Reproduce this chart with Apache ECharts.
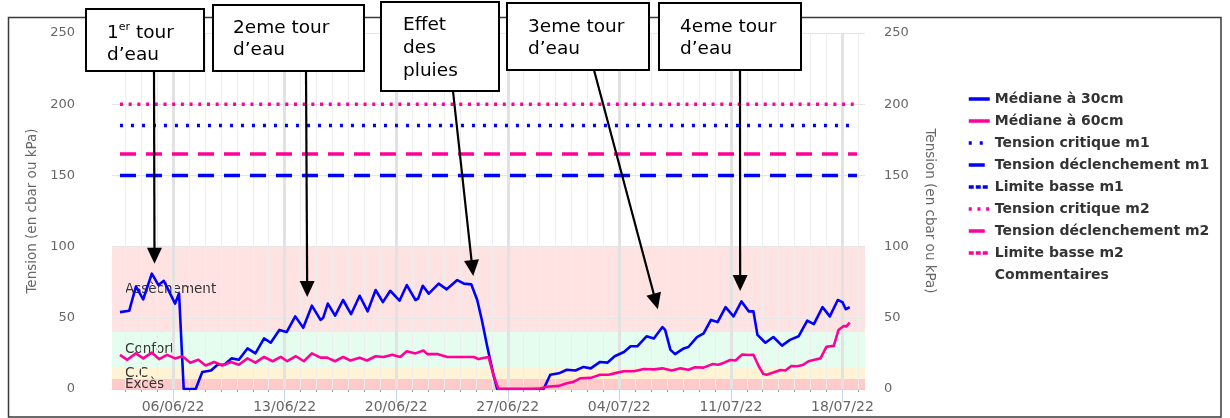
<!DOCTYPE html>
<html>
<head>
<meta charset="utf-8">
<script src="https://cdn.jsdelivr.net/npm/echarts@6/dist/echarts.min.js"></script>
<style>
  html, body { margin: 0; padding: 0; background: #fff; }
  #chart { width: 1230px; height: 418px; }
</style>
</head>
<body>
<div id="chart"></div>
<script>
// x axis runs on hourly categories, dates are 'MM-DD HH' in 2022
const axisStart = '06-02 04';
const axisEnd = '07-19 10';

const yTicks = [0, 50, 100, 150, 200, 250];

// médiane à 30cm
const median30 = [
  ['06-02 16', 54], ['06-03 06', 55], ['06-03 16', 72], ['06-04 03', 63], ['06-04 16', 81],
  ['06-05 02', 73], ['06-05 10', 76], ['06-06 03', 60], ['06-06 09', 67], ['06-06 16', 0],
  ['06-07 10', 0], ['06-07 20', 12], ['06-08 09', 13], ['06-08 19', 17], ['06-09 05', 17],
  ['06-09 16', 21.5], ['06-10 03', 20.5], ['06-10 16', 28.5], ['06-11 04', 25], ['06-11 17', 35.5],
  ['06-12 03', 32.5], ['06-12 16', 41.5], ['06-13 03', 40], ['06-13 16', 51], ['06-14 04', 43],
  ['06-14 17', 58.5], ['06-15 06', 48.5], ['06-15 10', 50], ['06-15 17', 60], ['06-16 04', 51.5],
  ['06-16 16', 62.5], ['06-17 04', 52.5], ['06-17 17', 65.5], ['06-18 05', 54.5], ['06-18 17', 69.5],
  ['06-19 04', 61], ['06-19 15', 69], ['06-20 05', 62], ['06-20 16', 73], ['06-21 05', 62.5],
  ['06-21 09', 63.5], ['06-21 16', 72.5], ['06-22 01', 67], ['06-22 16', 74], ['06-23 04', 70],
  ['06-23 20', 76.5], ['06-24 06', 74], ['06-24 17', 73.5], ['06-25 02', 62.5], ['06-25 09', 48.5],
  ['06-25 17', 30], ['06-26 02', 11], ['06-26 08', 0], ['06-29 06', 0], ['06-29 16', 10],
  ['06-30 05', 11], ['06-30 17', 13.5], ['07-01 06', 13], ['07-01 18', 15.5], ['07-02 05', 14.5],
  ['07-02 19', 19], ['07-03 06', 18.5], ['07-03 17', 23], ['07-04 07', 26], ['07-04 17', 30],
  ['07-05 03', 30], ['07-05 17', 37], ['07-06 04', 35.5], ['07-06 17', 43.5], ['07-06 21', 41.5],
  ['07-07 05', 27.5], ['07-07 12', 24.5], ['07-08 01', 28.5], ['07-08 08', 29.5], ['07-08 21', 36.5],
  ['07-09 07', 39], ['07-09 18', 48.5], ['07-10 04', 47], ['07-10 16', 57.5], ['07-11 04', 51],
  ['07-11 16', 61.5], ['07-12 03', 54.5], ['07-12 10', 54.5], ['07-12 16', 38], ['07-13 04', 32.5],
  ['07-13 16', 36.5], ['07-14 05', 30.5], ['07-14 17', 34.5], ['07-15 06', 37], ['07-15 19', 48],
  ['07-16 05', 45.5], ['07-16 18', 57.5], ['07-17 05', 51], ['07-17 17', 62.5], ['07-18 00', 61],
  ['07-18 05', 56], ['07-18 11', 57.5]
];

// médiane à 60cm
const median60 = [
  ['06-02 16', 24], ['06-03 03', 20.5], ['06-03 16', 25], ['06-04 03', 21.5], ['06-04 16', 25.5],
  ['06-05 03', 21], ['06-05 15', 24], ['06-06 03', 21.5], ['06-06 14', 23], ['06-07 02', 18.5],
  ['06-07 14', 20.5], ['06-08 01', 16.5], ['06-08 14', 19], ['06-09 02', 16.5], ['06-09 15', 19],
  ['06-10 03', 17], ['06-10 16', 21.5], ['06-11 04', 18.5], ['06-11 17', 22.5], ['06-12 06', 19.5],
  ['06-12 18', 22.5], ['06-13 04', 19.5], ['06-13 17', 23], ['06-14 05', 19.5], ['06-14 17', 25],
  ['06-15 06', 22], ['06-15 16', 22], ['06-16 04', 19.5], ['06-16 16', 22.5], ['06-17 03', 20],
  ['06-17 17', 22], ['06-18 04', 20], ['06-18 17', 23], ['06-19 05', 22.5], ['06-19 18', 24],
  ['06-20 06', 22.5], ['06-20 16', 26.5], ['06-21 05', 25], ['06-21 17', 27], ['06-21 23', 24.5],
  ['06-22 14', 24.5], ['06-23 05', 22.5], ['06-23 15', 22.5], ['06-24 06', 22.5], ['06-24 21', 22.5],
  ['06-25 04', 21], ['06-25 19', 22.5], ['06-26 03', 9], ['06-26 10', 0], ['06-28 13', 0],
  ['06-28 15', 0.5], ['06-29 01', 0.3], ['06-29 11', 1.6], ['06-30 05', 2.2], ['06-30 17', 4],
  ['07-01 03', 5], ['07-01 13', 7.5], ['07-02 05', 7.8], ['07-02 19', 10], ['07-03 08', 10],
  ['07-03 21', 11.5], ['07-04 07', 12.5], ['07-04 22', 12.5], ['07-05 13', 14], ['07-06 04', 13.8],
  ['07-06 17', 14.5], ['07-07 07', 13], ['07-07 20', 14.5], ['07-08 08', 13.5], ['07-08 18', 15.3],
  ['07-09 07', 15], ['07-09 20', 17.5], ['07-10 05', 17], ['07-10 14', 18.5], ['07-10 23', 20.4],
  ['07-11 07', 20], ['07-11 17', 24.2], ['07-12 03', 23.9], ['07-12 10', 24], ['07-12 18', 16],
  ['07-13 01', 10.5], ['07-13 06', 10], ['07-13 17', 11.7], ['07-14 03', 13.3], ['07-14 10', 13],
  ['07-14 19', 16.1], ['07-15 04', 16], ['07-15 12', 16.8], ['07-15 21', 19.5], ['07-16 06', 20.5],
  ['07-16 15', 21.5], ['07-17 00', 29.7], ['07-17 11', 30.3], ['07-17 18', 41.4], ['07-18 02', 44.2],
  ['07-18 06', 44], ['07-18 11', 46.6]
];

// seuils
const critiqueM1 = 185;
const declenchementM1 = 150;
const critiqueM2 = 200;
const declenchementM2 = 165;
const thresholdSpan = ['06-02 16', '07-18 22'];

// zones de confort
const zoneNames = ['Excès', 'C.C', 'Confort', 'Assèchement'];
const zoneBounds = [[0, 7], [7, 15], [15, 40], [40, 100]];

// annotations
const noteTexts = [
  '{n|1}{s|er}{n| tour}\n{n|d’eau}',
  '2eme tour\nd’eau',
  'Effet\ndes\npluies',
  '3eme tour\nd’eau',
  '4eme tour\nd’eau'
];
const noteTargets = [['06-04 20', 88], ['06-14 10', 64.6], ['06-24 20', 79.3], ['07-06 10', 56], ['07-11 14', 68.8]];

// layout of the annotation boxes (pixels)
const noteBoxes = [[86, 9, 118, 62], [213, 5, 151, 66], [381, 2, 118, 89], [507, 3, 142, 67], [659, 3, 142, 67]];
const noteTextPos = [[107, 22], [233, 17], [403, 13.5], [528, 16], [680, 16]];
const noteLineHeight = [22, 22, 23, 22, 22];
const noteArrowFrom = [[154, 71], [306, 71], [453, 91], [594, 70], [740, 71]];

const FONT = 'DejaVu Sans, Verdana, sans-serif';
const BLUE = '#0000ff';
const PINK = '#ff0099';
const zoneColors = ['#ffcaca', '#fff3d6', '#e4fdee', '#ffe2e2'];

const HOUR = 3600000;
function stamp(s) {
  const [md, h] = s.split(' ');
  const [m, d] = md.split('-').map(Number);
  return Date.UTC(2022, m - 1, d, Number(h));
}
const startMs = stamp(axisStart);
const endMs = stamp(axisEnd);
const hours = [];
for (let t = startMs; t <= endMs; t += HOUR) hours.push(new Date(t));
const categories = hours.map(d => d.toISOString().slice(0, 13));
const isDay = hours.map(d => d.getUTCHours() === 0);
const isWeek = hours.map(d => d.getUTCHours() === 0 && d.getUTCDay() === 1);
const idx = s => (stamp(s) - startMs) / HOUR;

const toSeries = arr => arr.map(p => [idx(p[0]), p[1]]);
const flat = v => thresholdSpan.map(s => [idx(s), v]);

function lineSeries(name, data, color, width, type) {
  return {
    name: name,
    type: 'line',
    symbol: 'none',
    z: 10,
    data: data,
    itemStyle: { color: color },
    lineStyle: { color: color, width: width, type: type || 'solid', cap: 'butt', join: 'round' },
    emphasis: { disabled: true },
    animation: false
  };
}

const series = [
  lineSeries('Médiane à 30cm', toSeries(median30), BLUE, 2.6),
  lineSeries('Médiane à 60cm', toSeries(median60), PINK, 2.6),
  lineSeries('Tension critique m1', flat(critiqueM1), BLUE, 3.5, [3, 8]),
  lineSeries('Tension déclenchement m1', flat(declenchementM1), BLUE, 3.5, [16, 10]),
  lineSeries('Limite basse m1', [], BLUE, 3, [5, 2]),
  lineSeries('Tension critique m2', flat(critiqueM2), PINK, 3.5, [3, 5.7]),
  lineSeries('Tension déclenchement m2', flat(declenchementM2), PINK, 3.5, [16, 10]),
  lineSeries('Limite basse m2', [], PINK, 3, [5, 2]),
  lineSeries('Commentaires', [], '#333', 0)
];

// coloured zones behind the curves
series[0].markArea = {
  silent: true,
  label: { position: 'insideLeft', distance: 13, color: '#333', fontSize: 13.5, fontFamily: FONT },
  data: zoneNames.map((n, i) => [
    { name: n, yAxis: zoneBounds[i][0], itemStyle: { color: zoneColors[i] } },
    { yAxis: zoneBounds[i][1] }
  ])
};

const dateLabel = v => v.slice(8, 10) + '/' + v.slice(5, 7) + '/' + v.slice(2, 4);

const yAxisBase = {
  type: 'value',
  min: yTicks[0],
  max: yTicks[yTicks.length - 1],
  interval: yTicks[1] - yTicks[0],
  z: 2,
  nameLocation: 'middle',
  nameTextStyle: { color: '#666', fontSize: 13.5, fontFamily: FONT },
  axisLine: { show: false },
  axisTick: { show: false }
};

const option = {
  animation: false,
  grid: { left: 112, right: 365, top: 33, bottom: 29 },
  legend: {
    orient: 'vertical',
    left: 967,
    top: 92,
    padding: 0,
    itemWidth: 21,
    itemHeight: 14,
    itemGap: 8,
    itemTextGap: 6,
    selectedMode: false,
    itemStyle: { opacity: 0 },
    lineStyle: { width: 3.5 },
    textStyle: { color: '#333', fontSize: 14, fontWeight: 'bold', fontFamily: FONT },
    data: series.map(s => s.name === 'Commentaires'
      ? { name: s.name, icon: 'rect', itemStyle: { color: 'rgba(0,0,0,0)' } }
      : s.name)
  },
  xAxis: [
    {
      type: 'category',
      data: categories,
      boundaryGap: false,
      z: 3,
      axisLine: { lineStyle: { color: '#ccd6eb', width: 1 } },
      axisTick: { interval: i => isWeek[i], length: 13, lineStyle: { color: '#ccd6eb' } },
      axisLabel: {
        interval: i => isWeek[i],
        formatter: dateLabel,
        color: '#666',
        fontSize: 14,
        fontFamily: FONT,
        margin: 11
      },
      splitLine: { show: true, interval: i => isWeek[i], lineStyle: { color: '#e2e2e2', width: 3 } }
    },
    {
      type: 'category',
      data: categories,
      boundaryGap: false,
      position: 'bottom',
      z: 2,
      axisLine: { show: false },
      axisTick: { interval: i => isDay[i], length: 3, lineStyle: { color: '#999' } },
      axisLabel: { show: false },
      splitLine: { show: true, interval: i => isDay[i], lineStyle: { color: '#eeeeee', width: 1 } }
    }
  ],
  yAxis: [
    Object.assign({}, yAxisBase, {
      position: 'left',
      name: 'Tension (en cbar ou kPa)',
      nameGap: 72,
      axisLabel: { color: '#666', fontSize: 13, fontFamily: FONT, margin: 37 },
      splitLine: { lineStyle: { color: '#e6e6e6' } }
    }),
    Object.assign({}, yAxisBase, {
      position: 'right',
      name: 'Tension (en cbar ou kPa)',
      nameRotate: -90,
      nameGap: 57,
      axisLabel: { color: '#666', fontSize: 13, fontFamily: FONT, margin: 19 },
      splitLine: { show: false }
    })
  ],
  series: series
};

const chart = echarts.init(document.getElementById('chart'));
chart.setOption(option);

// annotation boxes and arrows, arrow tips placed on the data scale
const graphics = [{
  type: 'rect',
  z: 50,
  shape: { x: 8.5, y: 17.5, width: 1212.5, height: 399.5 },
  style: { fill: 'none', stroke: '#3a3a3a', lineWidth: 1.5 },
  silent: true
}];

noteTexts.forEach((txt, i) => {
  const tip = chart.convertToPixel({ xAxisIndex: 0, yAxisIndex: 0 }, [idx(noteTargets[i][0]), noteTargets[i][1]]);
  const from = noteArrowFrom[i];
  const dx = tip[0] - from[0], dy = tip[1] - from[1];
  const len = Math.sqrt(dx * dx + dy * dy);
  const ux = dx / len, uy = dy / len;
  const headLen = 16, headHalf = 7.5;
  const bx = tip[0] - ux * headLen, by = tip[1] - uy * headLen;
  const b = noteBoxes[i];
  const lh = noteLineHeight[i];
  graphics.push(
    {
      type: 'rect', z: 60, silent: true,
      shape: { x: b[0], y: b[1], width: b[2], height: b[3] },
      style: { fill: '#fff', stroke: '#000', lineWidth: 2 }
    },
    {
      type: 'text', z: 61, silent: true,
      x: noteTextPos[i][0], y: noteTextPos[i][1],
      style: {
        text: txt,
        fill: '#000',
        fontSize: 18.5,
        fontFamily: FONT,
        lineHeight: lh,
        verticalAlign: 'top',
        rich: {
          n: { fontSize: 18.5, fontFamily: FONT, lineHeight: lh, fill: '#000' },
          s: { fontSize: 11, fontFamily: FONT, lineHeight: 14, verticalAlign: 'top', fill: '#000' }
        }
      }
    },
    {
      type: 'polyline', z: 62, silent: true,
      shape: { points: [from, [bx + ux, by + uy]] },
      style: { stroke: '#000', lineWidth: 2.2, fill: null }
    },
    {
      type: 'polygon', z: 62, silent: true,
      shape: {
        points: [
          tip,
          [bx - uy * headHalf, by + ux * headHalf],
          [bx + uy * headHalf, by - ux * headHalf]
        ]
      },
      style: { fill: '#000' }
    }
  );
});

chart.setOption({ graphic: graphics });
</script>
</body>
</html>
